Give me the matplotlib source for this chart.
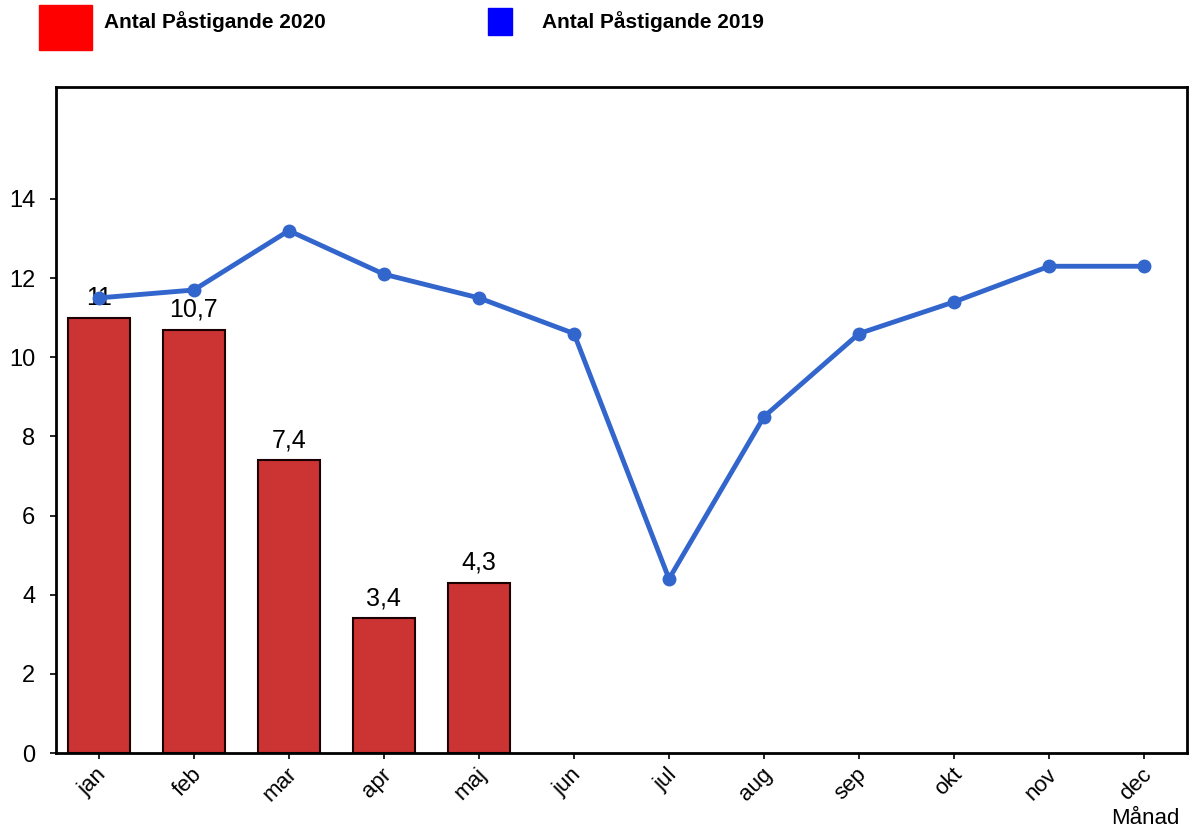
import numpy as np
import matplotlib.pyplot as plt
from matplotlib.patches import Rectangle
from matplotlib.transforms import ScaledTranslation

plt.rcParams['font.family'] = ['Liberation Sans', 'DejaVu Sans']

# Data
months = ['jan', 'feb', 'mar', 'apr', 'maj', 'jun', 'jul', 'aug', 'sep', 'okt', 'nov', 'dec']
antal_2020 = [11, 10.7, 7.4, 3.4, 4.3]
labels_2020 = ['11', '10,7', '7,4', '3,4', '4,3']
antal_2019 = [11.5, 11.7, 13.2, 12.1, 11.5, 10.6, 4.4, 8.5, 10.6, 11.4, 12.3, 12.3]

W, H = 1193, 834
fig = plt.figure(figsize=(W / 100, H / 100), dpi=100)
ax = fig.add_axes([56 / W, 1 - 753 / H, (1187 - 56) / W, (753 - 87) / H])

x = np.arange(len(months))
ax.bar(x[:len(antal_2020)], antal_2020, width=0.65, color='#cc3333',
       edgecolor='#1a0000', linewidth=1.5, zorder=2)
for xi, v, lab in zip(x, antal_2020, labels_2020):
    ax.text(xi, v + 0.2, lab, ha='center', va='bottom', fontsize=18, zorder=3)

ax.plot(x, antal_2019, color='#3366cc', linewidth=3.5, marker='o',
        markersize=9, zorder=4)

ax.set_xlim(-0.45, 11.45)
ax.set_ylim(0, 16.83)
ax.set_yticks(np.arange(0, 15, 2))
ax.tick_params(axis='y', labelsize=17, length=4, width=1.2, direction='out', pad=11)
ax.set_xticks(x)
ax.tick_params(axis='x', length=4, width=1.2, direction='out', labelbottom=False)

# month labels, rotated, a bit to the right of each tick
lab_trans = ax.get_xaxis_transform() + ScaledTranslation(12 / 100, -11 / 100, fig.dpi_scale_trans)
for xi, m in zip(x, months):
    ax.text(xi, 0, m, rotation=45, ha='right', va='top', fontsize=16,
            transform=lab_trans, clip_on=False)

for s in ax.spines.values():
    s.set_linewidth(2)

fig.text(1145 / W, 1 - 819 / H, 'Månad', ha='center', va='center', fontsize=16)

# Legend drawn at the top
fig.patches.append(Rectangle((39 / W, 1 - 50 / H), 53 / W, 45 / H, color='red',
                             transform=fig.transFigure, figure=fig))
fig.text(104 / W, 1 - 22 / H, 'Antal Påstigande 2020', fontsize=15,
         fontweight='bold', va='center')
fig.patches.append(Rectangle((488 / W, 1 - 35 / H), 24 / W, 27 / H, color='blue',
                             transform=fig.transFigure, figure=fig))
fig.text(542 / W, 1 - 22 / H, 'Antal Påstigande 2019', fontsize=15,
         fontweight='bold', va='center')

fig.savefig('out.png', dpi=100)
